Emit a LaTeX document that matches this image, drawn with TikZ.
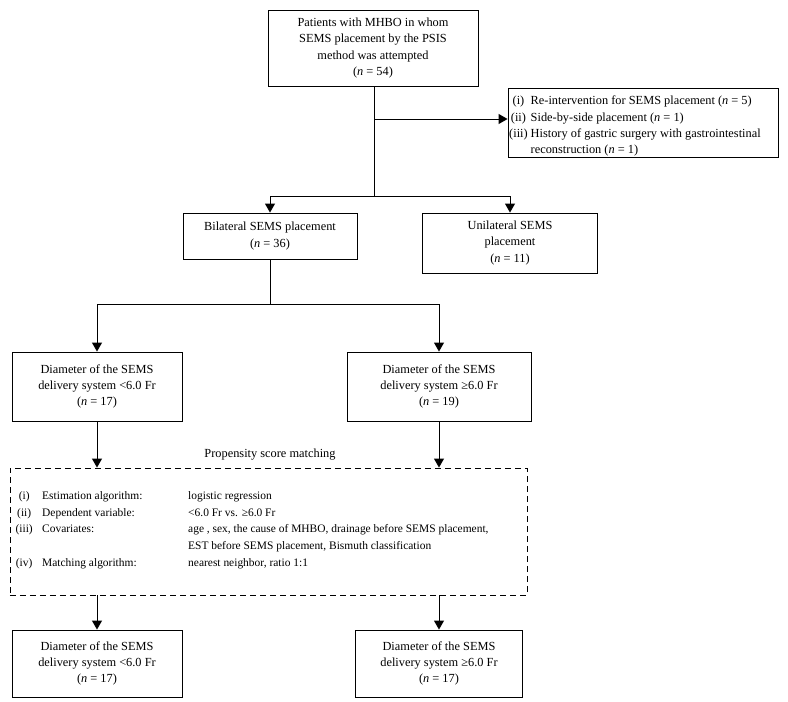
\documentclass[tikz,border=0pt]{standalone}
\usepackage{fontspec}
\setmainfont{Liberation Serif}
\usetikzlibrary{arrows.meta}
\begin{document}
\begin{tikzpicture}[x=1bp,y=-1bp,
  every node/.style={font=\fontsize{12.4}{16.4}\selectfont},
  box/.style={draw,line width=0.9bp,inner sep=0pt,align=center},
  arr/.style={line width=0.9bp,-{Triangle[length=9bp,width=10bp]}},
  ln/.style={line width=0.9bp}]
\useasboundingbox (0,0) rectangle (788,702);
% top
\node[box,minimum width=210bp,minimum height=76bp] (top) at (373,48)
  {Patients with MHBO in whom\\SEMS placement by the PSIS\\method was attempted\\(\textit{n} = 54)};
\node[box,minimum width=270bp,minimum height=69bp] (excl) at (643,122.5) {};
\node[anchor=west,inner sep=0pt] (excltxt) at (509,126)
  {\begin{tabular}{@{}c@{\hspace{3bp}}l@{}}
  (i) & Re-intervention for SEMS placement (\textit{n} = 5)\\
  (ii) & Side-by-side placement (\textit{n} = 1)\\
  (iii) & History of gastric surgery with gastrointestinal\\
   & reconstruction (\textit{n} = 1)
  \end{tabular}};
\coordinate (j1) at (374,119);
\coordinate (j2) at (374,196);
\coordinate (j2l) at (270,196);
\coordinate (j2r) at (510,196);
\node[box,minimum width=174bp,minimum height=46bp] (bil) at (270,236)
  {Bilateral SEMS placement\\(\textit{n} = 36)};
\node[box,minimum width=175bp,minimum height=60bp] (uni) at (510,243)
  {Unilateral SEMS\\placement\\(\textit{n} = 11)};
\draw[ln] (top.south -| j1) -- (j2);
\draw[arr] (j1) -- (excl.west |- j1);
\draw[ln] (j2l) -- (j2r);
\draw[arr] (j2l) -- (bil.north);
\draw[arr] (j2r) -- (uni.north);
% middle
\coordinate (j3) at (270,304);
\coordinate (j3l) at (97,304);
\coordinate (j3r) at (439,304);
\node[box,minimum width=170bp,minimum height=69bp] (ml) at (97,386.5)
  {Diameter of the SEMS\\delivery system <6.0 Fr\\(\textit{n} = 17)};
\node[box,minimum width=184bp,minimum height=69bp] (mr) at (439,386.5)
  {Diameter of the SEMS\\delivery system ≥6.0 Fr\\(\textit{n} = 19)};
\draw[ln] (bil.south) -- (j3);
\draw[ln] (j3l) -- (j3r);
\draw[arr] (j3l) -- (ml.north);
\draw[arr] (j3r) -- (mr.north);
% propensity
\node[draw,dashed,dash pattern=on 6bp off 4bp,line width=0.9bp,minimum width=517bp,minimum height=127bp,inner sep=0pt] (psm) at (268.5,531.5) {};
\node[anchor=south,inner sep=0pt] (psmlab) at (270,460) {Propensity score matching};
\node[anchor=north west,inner sep=0pt,font=\fontsize{11.5}{16.5}\selectfont] (psmtxt) at (12,488)
  {\begin{tabular}{@{}p{24bp}@{\hspace{6bp}}p{140bp}@{\hspace{6bp}}l@{}}
  \centering (i) & Estimation algorithm: & logistic regression\\
  \centering (ii) & Dependent variable: & <6.0 Fr vs. ≥6.0 Fr\\
  \centering (iii) & Covariates: & age , sex, the cause of MHBO, drainage before SEMS placement,\\
   & & EST before SEMS placement, Bismuth classification\\[1bp]
  \centering (iv) & Matching algorithm: & nearest neighbor, ratio 1:1
  \end{tabular}};
\draw[arr] (ml.south) -- (ml.south |- psm.north);
\draw[arr] (mr.south) -- (mr.south |- psm.north);
% bottom
\node[box,minimum width=170bp,minimum height=67bp] (bl) at (97,663.5)
  {Diameter of the SEMS\\delivery system <6.0 Fr\\(\textit{n} = 17)};
\node[box,minimum width=167bp,minimum height=67bp] (br) at (439,663.5)
  {Diameter of the SEMS\\delivery system ≥6.0 Fr\\(\textit{n} = 17)};
\draw[arr] (bl.north |- psm.south) -- (bl.north);
\draw[arr] (br.north |- psm.south) -- (br.north);
\end{tikzpicture}
\end{document}
